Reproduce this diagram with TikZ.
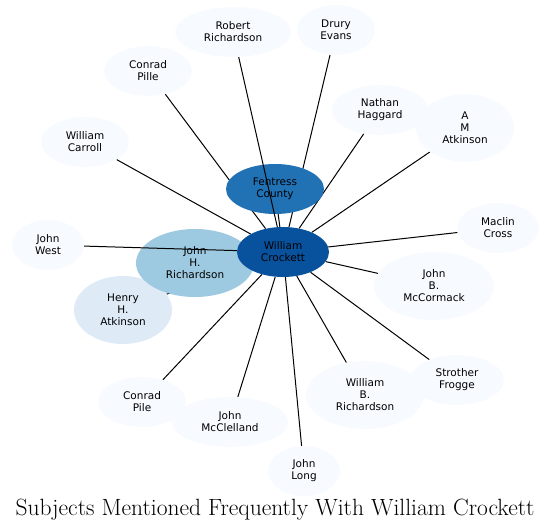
\documentclass[tikz,border=0pt]{standalone}
\usepackage{fontspec}
\usepackage{tikz}
\usetikzlibrary{shapes}
\newfontfamily\labelfont{DejaVu Sans}
\definecolor{blues1}{HTML}{F7FBFF}
\definecolor{blues2}{HTML}{DEEBF7}
\definecolor{blues4}{HTML}{9ECAE1}
\definecolor{blues7}{HTML}{2171B5}
\definecolor{blues8}{HTML}{08519C}
\pgfdeclarelayer{bg}
\pgfsetlayers{bg,main}
\tikzset{
    subject/.style={ellipse,inner sep=0pt,align=center,text=black,
        font=\labelfont\fontsize{10.5}{12}\selectfont},
    twoline/.style={subject,minimum width=#1,minimum height=50pt},
    threeline/.style={subject,minimum width=#1,minimum height=68pt},
    link/.style={draw=black,line width=1pt}
}
\begin{document}
\begin{tikzpicture}[x=1pt,y=-1pt]
    \useasboundingbox (0,0) rectangle (551,532);
    \node[twoline=116pt,fill=blues1] (rr) at (233,32) {Robert\\Richardson};
    \node[twoline=78pt,fill=blues1] (de) at (336,30) {Drury\\Evans};
    \node[twoline=88pt,fill=blues1] (cpille) at (148,71) {Conrad\\Pille};
    \node[twoline=96pt,fill=blues1] (nh) at (380,110) {Nathan\\Haggard};
    \node[threeline=98pt,fill=blues1] (ama) at (465,128) {A\\M\\Atkinson};
    \node[twoline=88pt,fill=blues1] (wcar) at (85,142) {William\\Carroll};
    \node[twoline=98pt,fill=blues7] (fc) at (275,189) {Fentress\\County};
    \node[twoline=82pt,fill=blues1] (mc) at (498,228) {Maclin\\Cross};
    \node[twoline=72pt,fill=blues1] (jw) at (48,245) {John\\West};
    \node[threeline=98pt,fill=blues2] (hha) at (123,310) {Henry\\H.\\Atkinson};
    \node[threeline=118pt,fill=blues4] (jhr) at (195,263) {John\\H.\\Richardson};
    \node[twoline=92pt,fill=blues8] (wc) at (283,252) {William\\Crockett};
    \node[threeline=120pt,fill=blues1] (jbm) at (434,286) {John\\B.\\McCormack};
    \node[threeline=118pt,fill=blues1] (wbr) at (365,395) {William\\B.\\Richardson};
    \node[twoline=94pt,fill=blues1] (sf) at (457,380) {Strother\\Frogge};
    \node[twoline=88pt,fill=blues1] (cpile) at (142,402) {Conrad\\Pile};
    \node[twoline=116pt,fill=blues1] (jmc) at (230,422) {John\\McClelland};
    \node[twoline=72pt,fill=blues1] (jl) at (304,471) {John\\Long};

    \begin{pgfonlayer}{bg}
    \draw[link] (wc) -- (fc);
    \draw[link] (wc) -- (de);
    \draw[link] (wc) -- (cpille);
    \draw[link] (wc) -- (nh);
    \draw[link] (wc) -- (ama);
    \draw[link] (wc) -- (wcar);
    \draw[link] (wc) -- (mc);
    \draw[link] (wc) -- (jhr);
    \draw[link] (wc) -- (hha);
    \draw[link] (wc) -- (jbm);
    \draw[link] (wc) -- (wbr);
    \draw[link] (wc) -- (sf);
    \draw[link] (wc) -- (cpile);
    \draw[link] (wc) -- (jmc);
    \draw[link] (wc) -- (jl);
    \end{pgfonlayer}
    \draw[link] (wc) -- (rr);
    \draw[link] (wc) -- (jw);

    \node[font=\fontsize{23.5}{28}\selectfont] (title) at (275,510) {Subjects Mentioned Frequently With William Crockett};
\end{tikzpicture}
\end{document}
